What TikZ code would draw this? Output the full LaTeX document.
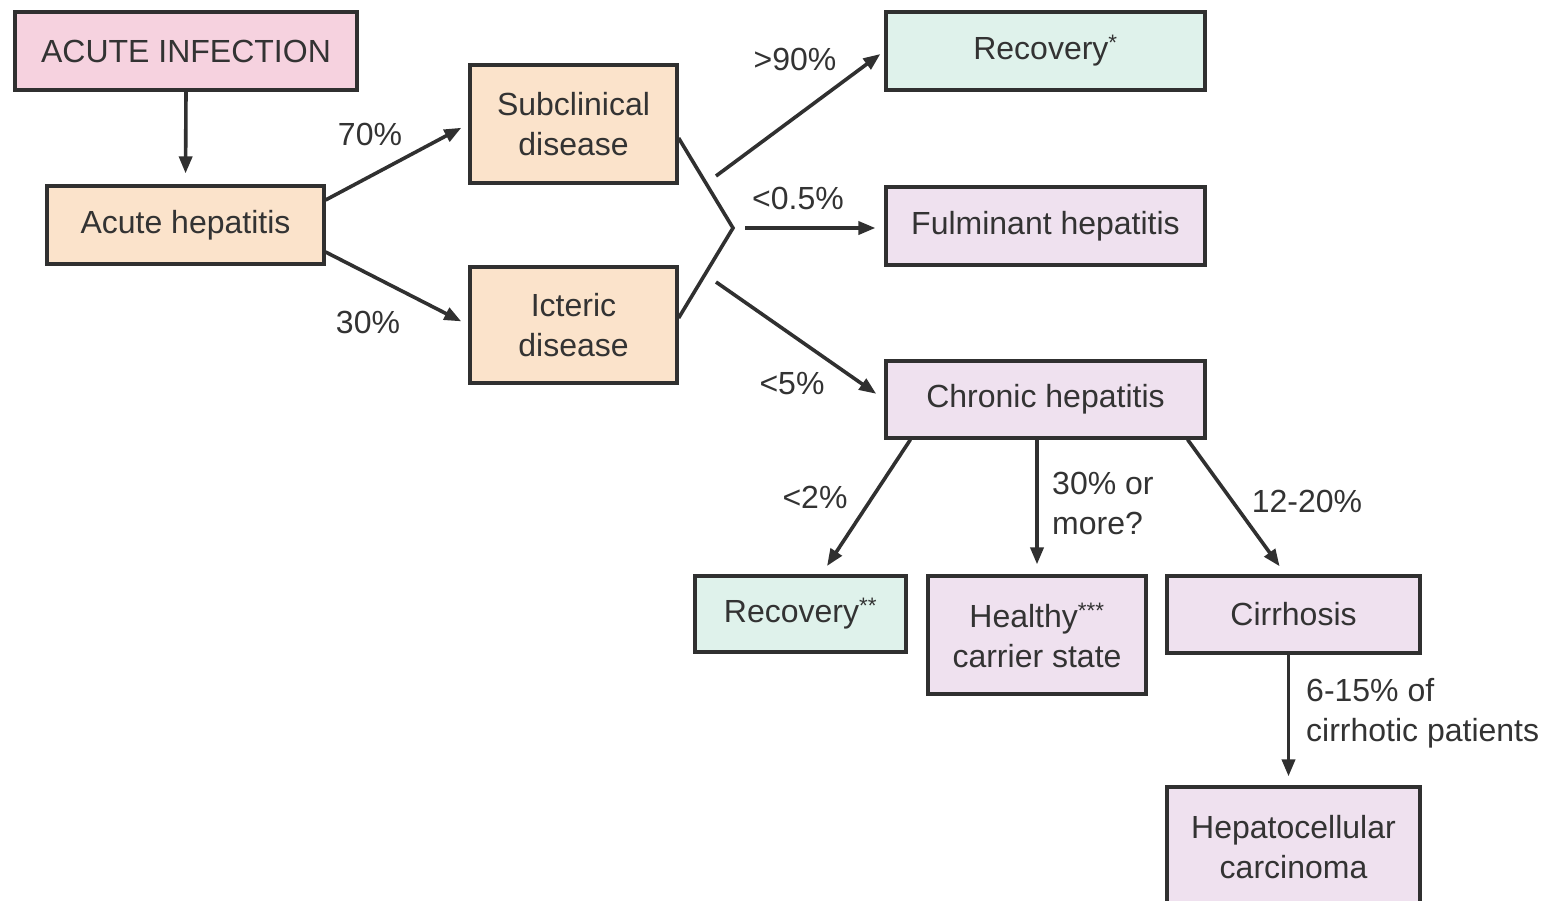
\documentclass[tikz,border=0pt]{standalone}
\usepackage{fontspec}
\setmainfont{Liberation Sans}
\usetikzlibrary{arrows.meta}
\definecolor{edge}{HTML}{303030}
\definecolor{txt}{HTML}{333333}
\definecolor{pinkf}{HTML}{F6D2DF}
\definecolor{peachf}{HTML}{FBE3CB}
\definecolor{mintf}{HTML}{DFF2EB}
\definecolor{lavf}{HTML}{EFE1EF}
\tikzset{
  box/.style={draw=edge, line width=3.2pt, text=txt, align=center, inner sep=0pt,
    font=\fontsize{32}{40}\selectfont},
  lbl/.style={text=txt, inner sep=0pt, font=\fontsize{32}{40}\selectfont},
  arr/.style={draw=edge, line width=3.6pt, -{Triangle[length=17pt,width=13pt]}},
  ln/.style={draw=edge, line width=3.6pt}
}
\begin{document}
\begin{tikzpicture}[x=1pt,y=-1pt]
\useasboundingbox[fill=white] (0,0) rectangle (1561,900);
% boxes
\node[box, fill=pinkf, minimum width=342pt, minimum height=78pt] (ai) at (186,51) {ACUTE INFECTION};
\node[box, fill=peachf, minimum width=277pt, minimum height=78pt] (ah) at (185.5,225) {\raisebox{-2pt}{Acute hepatitis}};
\node[box, fill=peachf, minimum width=207pt, minimum height=118pt] (sub) at (573.5,124) {Subclinical\\disease};
\node[box, fill=peachf, minimum width=207pt, minimum height=116pt] (ict) at (573.5,325) {Icteric\\disease};
\node[box, fill=mintf, minimum width=319pt, minimum height=78pt] (rec1) at (1045.5,51) {Recovery\textsuperscript{*}};
\node[box, fill=lavf, minimum width=319pt, minimum height=78pt] (ful) at (1045.5,226) {\raisebox{-2pt}{Fulminant hepatitis}};
\node[box, fill=lavf, minimum width=319pt, minimum height=77pt] (chr) at (1045.5,399.5) {\raisebox{-2pt}{Chronic hepatitis}};
\node[box, fill=mintf, minimum width=211pt, minimum height=76pt] (rec2) at (800.5,614) {Recovery\textsuperscript{**}};
\node[box, fill=lavf, minimum width=218pt, minimum height=118pt] (hea) at (1037,635) {Healthy\textsuperscript{***}\\carrier state};
\node[box, fill=lavf, minimum width=253pt, minimum height=77pt] (cir) at (1293.5,614.5) {Cirrhosis};
\node[box, fill=lavf, minimum width=253pt, minimum height=126pt] (hcc) at (1293.5,850) {};
\node[lbl, align=center] (hcct) at (1293.5,847) {Hepatocellular\\carcinoma};
% connectors
\draw[arr, shorten >=11pt] (ai.south) -- (ah.north);
\draw[arr, shorten >=8pt] ([yshift=25pt]ah.east) -- (sub.west);
\draw[arr, shorten >=8pt] ([yshift=-27pt]ah.east) -- (ict.west);
\coordinate (m) at (733,228);
\draw[ln, line join=miter] ([yshift=-14pt]sub.east) -- (m) -- ([yshift=7pt]ict.east);
\coordinate (s1) at (716,176);
\coordinate (s2) at (745,228);
\coordinate (s3) at (716,282);
\draw[arr, shorten >=5pt] (s1) -- (rec1.west);
\draw[arr, shorten >=9pt] (s2) -- (s2 -| ful.west);
\draw[arr, shorten >=10pt] (s3) -- (chr.west);
\draw[arr, shorten >=10pt] ([xshift=26pt]chr.south west) -- ([xshift=21pt]rec2.north);
\draw[arr, shorten >=10pt] (hea.north |- chr.south) -- (hea.north);
\draw[arr, shorten >=10pt] ([xshift=-19pt]chr.south east) -- ([xshift=-8pt]cir.north);
\draw[arr, shorten >=9pt] ([xshift=-5pt]cir.south) -- ([xshift=-5pt]hcc.north);
% labels
\node[lbl] (l70) at (370,134) {70\%};
\node[lbl] (l30) at (368,322) {30\%};
\node[lbl] (l90) at (795,59) {>90\%};
\node[lbl] (l05) at (798,198) {<0.5\%};
\node[lbl] (l5) at (792,384) {<5\%};
\node[lbl] (l2) at (815,497) {<2\%};
\node[lbl, align=left, anchor=west] (l30m) at (1052,503) {30\% or\\more?};
\node[lbl] (l1220) at (1307,501) {12-20\%};
\node[lbl, align=left, anchor=west] (l615) at (1306,713) {6-15\% of\\cirrhotic patients};
\end{tikzpicture}
\end{document}
